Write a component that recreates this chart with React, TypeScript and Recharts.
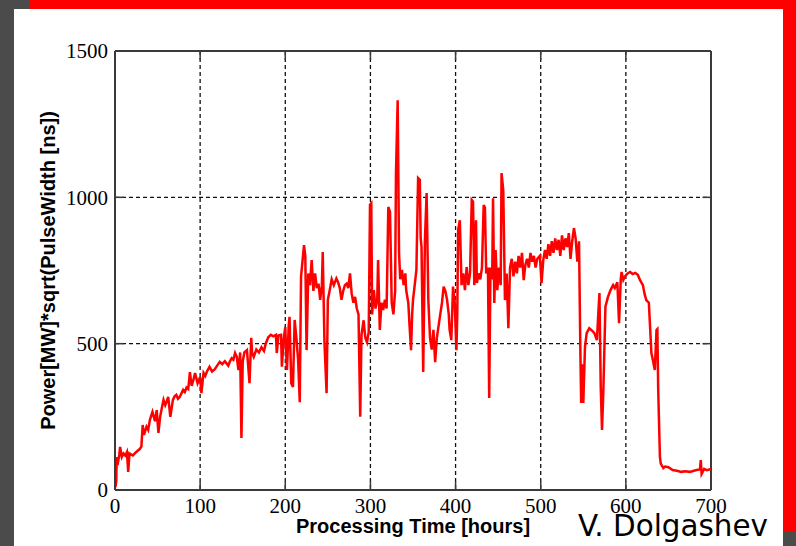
import React from 'react';
import { LineChart, Line, XAxis, YAxis, CartesianGrid, ReferenceLine } from 'recharts';

// Processing time [hours]
const hours: number[] = [
  0.5, 1.5, 2, 3, 5, 6, 8, 10, 12, 14,
  15.5, 17, 21, 25, 29, 31, 32.5, 34, 37, 39,
  41, 44, 47, 49, 51, 53, 55, 57, 59, 61,
  62.5, 65, 68, 70, 72, 74, 76, 80, 82, 84,
  86, 88, 90, 92, 94, 97, 100, 101.5, 104, 106,
  108, 111, 114, 117, 120, 123, 126, 129, 133, 135,
  137, 139, 141, 143, 145, 147, 148.5, 150, 152, 155,
  158, 160, 161, 163, 166, 169, 172, 175, 177, 180,
  183, 186, 189, 190, 192, 195, 196, 198, 200, 201,
  202, 204, 205, 207, 209, 211, 213, 215, 217, 218.5,
  220, 222, 223.5, 225, 227, 229, 231, 233, 235, 237,
  239, 241, 243, 244, 246, 248.5, 250, 252, 254.5, 257,
  260, 262, 264, 266, 268, 270, 272, 274, 276, 278,
  280, 282, 284, 286, 288, 289.5, 292, 294, 296, 298,
  299.5, 301, 302, 304, 306, 308, 309, 311, 313, 315,
  317, 319, 321, 323, 325, 327, 329, 330, 332, 333.6,
  335, 337, 339, 341, 342, 344.5, 346, 347.7, 349, 350,
  352, 354, 356, 358, 359, 360, 362, 364, 366, 368,
  370, 372, 374, 376, 378, 380, 382, 384, 386, 388,
  390, 392, 393, 395, 397, 399, 401, 402, 403, 405,
  407, 409, 411, 413, 415, 417, 419, 420.5, 422, 424,
  425, 427, 429, 431, 433, 434.5, 436, 438, 439.5, 441,
  443, 444, 445.5, 447, 449, 451, 453, 454, 456, 458,
  460, 462, 464, 466, 468, 470, 472, 474, 476, 478,
  480, 482, 484, 486, 488, 490, 492, 494, 496, 499,
  501, 503, 505, 507, 509, 511, 513, 515, 517, 519,
  521, 523, 525, 527, 529, 531, 533, 535, 537, 539,
  541, 543, 545, 546.5, 547.5, 549, 550, 552, 554, 557,
  560, 563, 566, 568, 569, 570.5, 572, 573.5, 576, 579,
  582, 585, 587, 590, 592, 594, 595, 597, 599, 602,
  605, 608, 611, 614, 617, 620, 622, 624, 627, 630,
  632, 634, 636, 637, 638, 640, 641, 644, 646, 650,
  655, 660, 665, 670, 675, 680, 683, 687, 688, 689,
  692, 695, 698, 700,
];

// Power[MW]*sqrt(PulseWidth [ns])
const power: number[] = [
  10, 30, 113, 85, 120, 147, 113, 125, 118, 130,
  62, 125, 118, 130, 140, 148, 222, 188, 216, 205,
  240, 267, 235, 273, 195, 250, 280, 308, 290, 305,
  318, 250, 308, 320, 325, 312, 318, 342, 335, 350,
  345, 403, 356, 375, 400, 365, 386, 331, 400, 390,
  405, 421, 405, 412, 425, 438, 430, 440, 425, 440,
  450, 445, 468, 455, 410, 470, 178, 440, 470, 478,
  365, 520, 470, 455, 480, 470, 488, 475, 500, 522,
  530, 525, 530, 468, 528, 530, 421, 512, 557, 470,
  410, 560, 592, 365, 352, 581, 520, 450, 300, 729,
  775, 837, 800, 478, 740, 700, 786, 680, 740, 690,
  705, 650, 700, 813, 505, 331, 650, 680, 720, 700,
  723, 710, 690, 650, 680, 700, 705, 690, 740, 670,
  640, 660, 620, 600, 250, 530, 580, 520, 505, 540,
  975, 980, 600, 683, 620, 650, 786, 547, 640, 615,
  650, 620, 967, 950, 640, 600, 680, 1083, 1332, 810,
  720, 752, 700, 740, 683, 639, 560, 478, 600, 649,
  700, 752, 1066, 1060, 860, 831, 403, 854, 1015, 650,
  520, 480, 547, 437, 520, 560, 600, 639, 695, 680,
  650, 600, 547, 512, 695, 640, 478, 600, 888, 922,
  700, 740, 683, 762, 700, 740, 991, 985, 700, 922,
  707, 740, 720, 760, 974, 965, 740, 760, 314, 760,
  720, 997, 639, 820, 683, 760, 700, 1083, 1025, 649,
  740, 553, 760, 790, 730, 780, 740, 800, 760, 810,
  717, 770, 790, 760, 810, 780, 800, 760, 790, 800,
  707, 786, 820, 790, 840, 800, 850, 810, 860, 820,
  855, 800, 870, 820, 860, 830, 878, 790, 850, 895,
  860, 780, 850, 489, 297, 430, 297, 489, 536, 553,
  545, 536, 512, 622, 673, 350, 205, 331, 626, 660,
  683, 700, 690, 710, 570, 720, 745, 718, 730, 740,
  745, 738, 742, 735, 715, 700, 670, 649, 640, 468,
  440, 410, 547, 550, 342, 113, 90, 75, 80, 78,
  68, 66, 62, 64, 62, 66, 68, 70, 102, 55,
  72, 68, 70, 72,
];

const xTicks = [0, 100, 200, 300, 400, 500, 600, 700];
const yTicks = [0, 500, 1000, 1500];
const xInner = [100, 200, 300, 400, 500, 600];
const yInner = [500, 1000];

const xTitle = 'Processing Time [hours]';
const yTitle = 'Power[MW]*sqrt(PulseWidth [ns])';
const author = 'V. Dolgashev';

const data = hours.map((h, i) => ({ h, p: power[i] }));

const AXIS = '#3a3a3a';
const serif = "'Liberation Serif', 'Times New Roman', serif";
const sans = "'Liberation Sans', Arial, sans-serif";

export default function App() {
  return (
    <div style={{ position: 'absolute', left: 0, top: 0, width: 796, height: 546, background: '#4b4b4b', overflow: 'hidden' }}>
      <div style={{ position: 'absolute', left: 30, top: 0, width: 766, height: 9, background: '#ff0000' }} />
      <div style={{ position: 'absolute', left: 14, top: 9, width: 769, height: 537, background: '#ffffff' }} />
      <div style={{ position: 'absolute', left: 783, top: 0, width: 13, height: 532, background: '#ff0000' }} />
      <div style={{ position: 'absolute', left: 0, top: 0 }}>
        <LineChart width={796} height={546} data={data} margin={{ top: 51, right: 85, left: 55, bottom: 26 }}>
          <CartesianGrid stroke="#111" strokeDasharray="4 3" strokeWidth={1.3} />
          <XAxis
            type="number"
            dataKey="h"
            domain={[0, 700]}
            ticks={xTicks}
            height={30}
            tickSize={0}
            tickMargin={8}
            tickLine={false}
            axisLine={{ stroke: AXIS, strokeWidth: 2 }}
            tick={{ fontFamily: serif, fontSize: 21, fill: '#000' }}
            label={{ value: xTitle, position: 'bottom', offset: -1, style: { fontFamily: sans, fontSize: 20, fontWeight: 'bold', fill: '#000' } }}
          />
          <YAxis
            type="number"
            domain={[0, 1500]}
            ticks={yTicks}
            width={60}
            tickSize={0}
            tickMargin={7}
            tickLine={false}
            axisLine={{ stroke: AXIS, strokeWidth: 2 }}
            tick={{ fontFamily: serif, fontSize: 21, fill: '#000' }}
            label={{ value: yTitle, angle: -90, position: 'insideLeft', offset: -7, style: { textAnchor: 'middle', fontFamily: sans, fontSize: 20, fontWeight: 'bold', fill: '#000' } }}
          />
          <ReferenceLine y={1500} stroke={AXIS} strokeWidth={2} />
          <ReferenceLine x={700} stroke={AXIS} strokeWidth={2} />
          {xInner.map((t) => (
            <ReferenceLine key={'xb' + t} segment={[{ x: t, y: 0 }, { x: t, y: 30 }]} stroke={AXIS} strokeWidth={1.5} />
          ))}
          {xInner.map((t) => (
            <ReferenceLine key={'xt' + t} segment={[{ x: t, y: 1500 }, { x: t, y: 1470 }]} stroke={AXIS} strokeWidth={1.5} />
          ))}
          {yInner.map((t) => (
            <ReferenceLine key={'yl' + t} segment={[{ x: 0, y: t }, { x: 10, y: t }]} stroke={AXIS} strokeWidth={1.5} />
          ))}
          {yInner.map((t) => (
            <ReferenceLine key={'yr' + t} segment={[{ x: 690, y: t }, { x: 700, y: t }]} stroke={AXIS} strokeWidth={1.5} />
          ))}
          <Line type="linear" dataKey="p" stroke="#ff0000" strokeWidth={2.5} dot={false} isAnimationActive={false} />
        </LineChart>
      </div>
      <svg width={796} height={546} style={{ position: 'absolute', left: 0, top: 0, pointerEvents: 'none' }}>
        <text x={578} y={536} fontFamily="'DejaVu Sans', sans-serif" fontSize={30} fill="#000" textLength={190} lengthAdjust="spacingAndGlyphs">
          {author}
        </text>
      </svg>
    </div>
  );
}
